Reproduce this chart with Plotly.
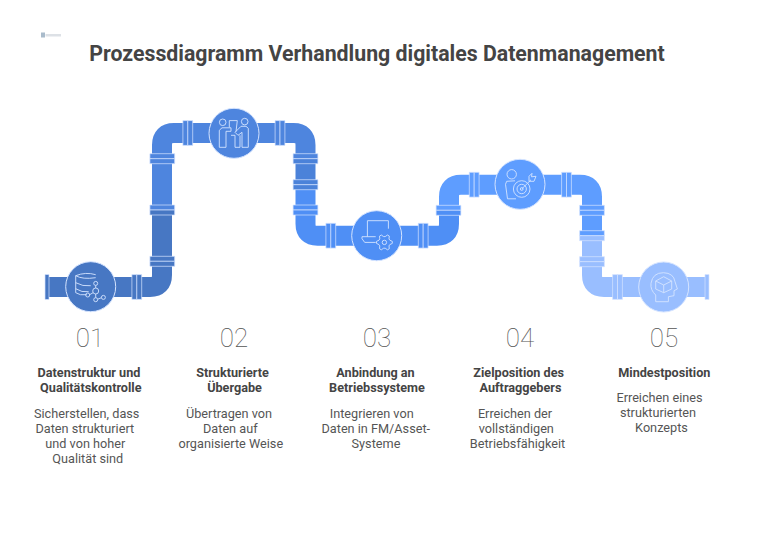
import math
import plotly.graph_objs as go

# texts
title = 'Prozessdiagramm Verhandlung digitales Datenmanagement'
numbers = ['01', '02', '03', '04', '05']
heading_lines = ['Datenstruktur und', 'Qualitätskontrolle',
                 'Strukturierte', 'Übergabe',
                 'Anbindung an', 'Betriebssysteme',
                 'Zielposition des', 'Auftraggebers',
                 'Mindestposition']
body_lines = ['Sicherstellen, dass', 'Daten strukturiert', 'und von hoher', 'Qualität sind',
              'Übertragen von', 'Daten auf', 'organisierte Weise',
              'Integrieren von', 'Daten in FM/Asset-', 'Systeme',
              'Erreichen der', 'vollständigen', 'Betriebsfähigkeit',
              'Erreichen eines', 'strukturierten', 'Konzepts']

# where the texts sit on the 769x538 page
number_x = [90, 234, 377, 520, 664]
number_y = 340
heading_x = [89, 90.8, 232.5, 234.5, 375.5, 377, 518.7, 520.5, 664.3]
heading_y = [373.5, 388.8, 373.5, 388.8, 373.5, 388.8, 373.5, 388.8, 373.5]
body_x = [86.7, 84.8, 85.3, 87.8, 229, 230.3, 230.8, 371.7, 375.8, 376,
          515, 516.3, 517.5, 659.5, 658, 661.5]
body_y = [414.5, 429.5, 445, 460.2, 414.5, 429.5, 445, 414.5, 429.5, 445,
          414.5, 429.5, 445, 398.5, 414, 429.2]

# colours of the pipe runs
pale = '#D5E4FF'
c1, c2, c3, c4, c5, c6 = '#4777C3', '#4E85DE', '#4B82D9', '#4F8FF5', '#5E9DFF', '#99BEFF'

# stations
node_x = [90.7, 234, 376.7, 520, 663.7]
node_y = [286.7, 133.3, 235.7, 184.3, 287]
node_colors = ['#4777C3', '#4E85DE', '#4F8FF5', '#5E9DFF', '#99BEFF']

shapes = []


def pipe(d, color):
    shapes.append(dict(type='path', path=d, layer='below', line=dict(color=color, width=20)))


def rect(x0, y0, x1, y1, color):
    shapes.append(dict(type='rect', x0=x0, y0=y0, x1=x1, y1=y1, layer='below',
                       fillcolor=color, line=dict(color=pale, width=0.7)))


def flange_h(y, x, color, color2=None):
    # flange on a vertical run
    rect(x - 12.4, y - 5, x + 12.4, y, color)
    rect(x - 12.4, y, x + 12.4, y + 5, color2 or color)


def flange_v(x, y, color):
    # flange on a horizontal run
    rect(x - 4.9, y - 12.4, x, y + 12.4, color)
    rect(x, y - 12.4, x + 4.9, y + 12.4, color)


def stroke(d):
    shapes.append(dict(type='path', path=d, layer='above', line=dict(color=pale, width=0.9)))


def ring(x, y, r):
    shapes.append(dict(type='circle', x0=x - r, y0=y - r, x1=x + r, y1=y + r, layer='above',
                       line=dict(color=pale, width=0.9)))


def poly(cx, cy, pts, close=False):
    d = 'M ' + ' L '.join('%.1f,%.1f' % (cx + p[0], cy + p[1]) for p in pts)
    stroke(d + (' Z' if close else ''))


# pipe runs
pipe('M 47,287 H 150 Q 162,287 162,275 V 212', c1)
pipe('M 162,212 V 145 Q 162,133 174,133 H 293.5 Q 305.5,133 305.5,145 V 158', c2)
pipe('M 305.5,158 V 186', c3)
pipe('M 305.5,186 V 223.7 Q 305.5,235.7 317.5,235.7 H 437 Q 449,235.7 449,223.7 V 210', c4)
pipe('M 449,210 V 196.7 Q 449,184.7 461,184.7 H 580 Q 592,184.7 592,196.7 V 236', c5)
pipe('M 592,236 V 275 Q 592,287 604,287 H 707', c6)

# flanges and end caps
rect(45, 274.5, 49, 299.5, c1)
rect(705, 274.5, 709, 299.5, c6)
flange_v(136.8, 287, c1)
flange_h(261.3, 162.3, c1)
flange_h(210, 162.3, c2, c1)
flange_h(158.7, 162.3, c2)
flange_v(187.8, 133, c2)
flange_v(280, 133, c2)
flange_h(158.7, 305.5, c2, c3)
flange_h(184.7, 305.5, c3)
flange_h(210, 305.5, c4)
flange_v(330.8, 235.7, c4)
flange_v(423.2, 235.7, c4)
flange_h(210.3, 448.5, c5, c4)
flange_v(474.2, 184.7, c5)
flange_v(566.5, 184.7, c5)
flange_h(210.3, 592, c5)
flange_h(235.7, 592, c5, c6)
flange_h(261.7, 592, c6)
flange_v(617.5, 287, c6)

# icon 1: database with network
cx, cy = node_x[0], node_y[0]
stroke(f'M {cx+5},{cy-12} Q {cx-5},{cy-15} {cx-15},{cy-11} V {cy+6} Q {cx-11},{cy+9} {cx-4},{cy+8}')
stroke(f'M {cx-15},{cy-11} Q {cx-8},{cy-7} {cx+5},{cy-9}')
stroke(f'M {cx-15},{cy-4} Q {cx-8},{cy} {cx},{cy-1}')
stroke(f'M {cx-15},{cy+2} Q {cx-9},{cy+6} {cx-2},{cy+5}')
ring(cx + 5, cy + 4.3, 3)
for nx, ny in [(5, -3.3), (-3, 8.3), (5, 13), (12.7, 10.7)]:
    ring(cx + nx, cy + ny, 2)
stroke(f'M {cx+5},{cy-1.3} V {cy+1.3} M {cx+5},{cy+7.3} V {cy+11} M {cx-1},{cy+8} L {cx+2.4},{cy+6} M {cx+7},{cy+12.5} L {cx+10.7},{cy+11}')

# icon 2: two people with a sheet
cx, cy = node_x[1], node_y[1]
ring(cx - 11.3, cy - 11, 3.3)
ring(cx + 10.7, cy - 11.7, 3.3)
poly(cx, cy, [(-14.7, 14), (-14.7, -3), (-12, -5.5), (-3, -5.5), (-3, -2), (-8, -2), (-8, 14)], True)
poly(cx, cy, [(-4.7, -6), (-4.7, -12.7), (3.3, -12.7), (2, -1.7)])
poly(cx, cy, [(14.3, 14), (14.3, -5), (12, -7), (7, -7), (1, -1), (4, 2), (8, -1), (8, 14)], True)
poly(cx, cy, [(-3, 2), (1, 2), (1, 14), (6, 14), (6, 2)])

# icon 3: laptop with gear
cx, cy = node_x[2], node_y[2]
poly(cx, cy, [(-9.3, 1), (-9.3, -15), (11.7, -15), (11.7, -7)])
poly(cx, cy, [(-1, 1), (-14.7, 1), (-14.7, 3), (-12, 6.7), (-1, 6.7)])
gx, gy = cx + 7.7, cy + 6.7
gear = []
for k in range(24):
    r = 8 if k % 4 in (0, 1) else 5.8
    a = math.radians(k * 15 - 7.5)
    gear.append((r * math.cos(a), r * math.sin(a)))
poly(gx, gy, gear, True)
ring(gx, gy, 2.2)

# icon 4: person with target
cx, cy = node_x[3], node_y[3]
ring(cx - 8.3, cy - 10, 4.7)
poly(cx, cy, [(-5, -3.5), (-13.3, -3), (-14.5, 0), (-12.5, 14.5), (-4, 14.5)])
ring(cx + 1.7, cy + 4.7, 8.3)
ring(cx + 1.7, cy + 4.7, 4.7)
ring(cx + 1.7, cy + 4.7, 1.4)
poly(cx, cy, [(1.7, 4.7), (11, -4.5)])
poly(cx, cy, [(9, -8), (9, -3), (14, -3), (16, -8), (11.5, -7.5), (12, -11)], True)

# icon 5: head with cube
cx, cy = node_x[4], node_y[4]
stroke(f'M {cx-8},{cy+14.7} V {cy+8} Q {cx-13.5},{cy+3} {cx-12.7},{cy-3.7} Q {cx-11},{cy-14.3} {cx-0.3},{cy-14.3} '
       f'Q {cx+10},{cy-14} {cx+11.3},{cy-5.3} L {cx+13.7},{cy+2} L {cx+10.3},{cy+3.7} V {cy+8.7} L {cx+4.7},{cy+9.7} V {cy+14.7} Z')
poly(cx, cy, [(0, -10.3), (8, -6), (8, 2), (0, 5.7), (-8, 2), (-8, -6)], True)
poly(cx, cy, [(-8, -6), (0, -2), (8, -6)])
poly(cx, cy, [(0, -2), (0, 5.7)])

# tiny logo at the top left
shapes.append(dict(type='rect', x0=41, y0=32.5, x1=45, y1=37.5, layer='below',
                   fillcolor='#A9BBCB', line=dict(width=0)))
shapes.append(dict(type='rect', x0=45.5, y0=34, x1=61, y1=36.5, layer='below',
                   fillcolor='#DDE1E6', line=dict(width=0)))

data = [go.Scatter(x=node_x, y=node_y, mode='markers', hoverinfo='skip',
                   marker=dict(size=50, color=node_colors, line=dict(color=pale, width=1))),
        go.Scatter(x=number_x, y=[number_y] * 5, text=numbers, mode='text', hoverinfo='skip',
                   textfont=dict(family='Roboto', size=26, color='#555555', weight=100)),
        go.Scatter(x=heading_x, y=heading_y, text=heading_lines, mode='text', hoverinfo='skip',
                   textfont=dict(family='Roboto', size=12.65, color='#444444', weight=700)),
        go.Scatter(x=body_x, y=body_y, text=body_lines, mode='text', hoverinfo='skip',
                   textfont=dict(family='Roboto', size=12.7, color='#555555')),
        go.Scatter(x=[377], y=[55.5], text=[title], mode='text', hoverinfo='skip',
                   textfont=dict(family='Roboto', size=21.3, color='#444444', weight=700))]

layout = go.Layout(width=769, height=538, margin=dict(l=0, r=0, t=0, b=0),
                   paper_bgcolor='white', plot_bgcolor='white', showlegend=False,
                   xaxis=dict(range=[0, 769], visible=False, fixedrange=True),
                   yaxis=dict(range=[538, 0], visible=False, fixedrange=True),
                   shapes=shapes)

fig = go.Figure(data=data, layout=layout)
fig.write_html("out.html", config=dict(displayModeBar=False),
               post_script="document.body.style.margin='0';")
